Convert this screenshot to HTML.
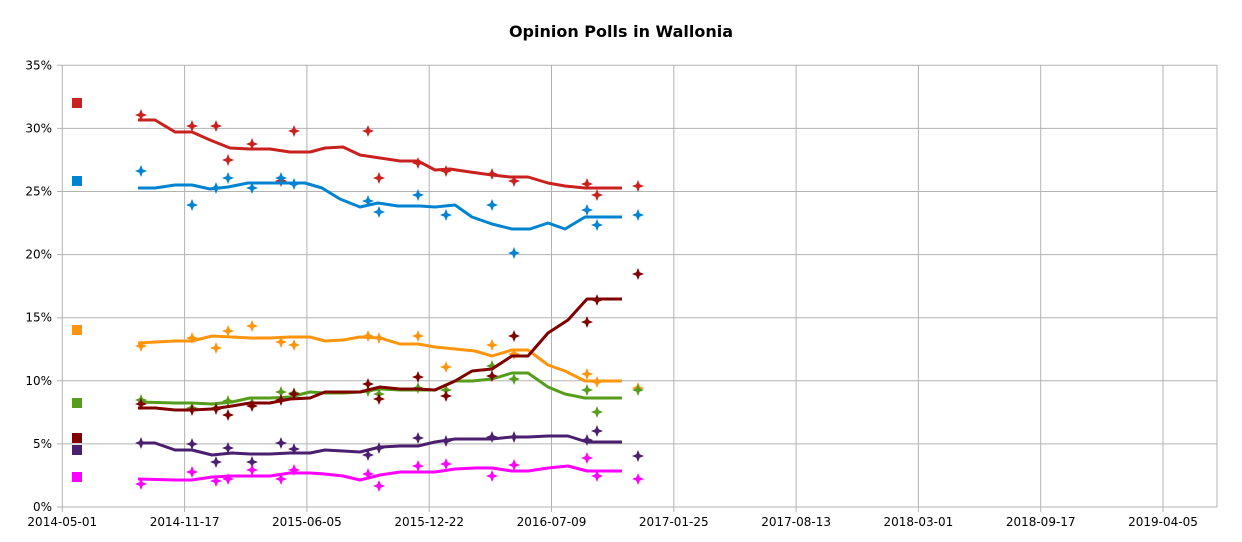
<!DOCTYPE html>
<html><head><meta charset="utf-8"><style>
body{margin:0;background:#fff;}
svg{display:block;font-family:"DejaVu Sans","Liberation Sans",sans-serif;}
</style></head><body>
<svg id="s" width="1242" height="542" viewBox="0 0 1242 542" xmlns="http://www.w3.org/2000/svg">
<rect width="1242" height="542" fill="#fff"/>
<text x="621" y="37" text-anchor="middle" font-size="16" font-weight="bold" fill="#000">Opinion Polls in Wallonia</text>
<g id="grid" stroke="#b3b3b3" stroke-width="1" fill="none"></g>
<g id="labels" font-size="12" fill="#000"></g>
<g id="data"></g>
</svg>
<script>
var NS="http://www.w3.org/2000/svg";
function el(t,a,p,txt){var e=document.createElementNS(NS,t);for(var k in a)e.setAttribute(k,a[k]);if(txt)e.textContent=txt;p.appendChild(e);return e;}
var g=document.getElementById('grid'),L=document.getElementById('labels'),D=document.getElementById('data');
var x0=62.3,dx=122.3,y0=507,dy=63.1;
for(var i=0;i<=7;i++){var y=y0-i*dy;el('line',{x1:57,x2:1217,y1:y,y2:y},g);el('text',{x:52,y:y+4,'text-anchor':'end'},L,(i*5)+'%');}
var dates=['2014-05-01','2014-11-17','2015-06-05','2015-12-22','2016-07-09','2017-01-25','2017-08-13','2018-03-01','2018-09-17','2019-04-05'];
for(var i=0;i<10;i++){var x=x0+i*dx;el('line',{x1:x,x2:x,y1:65,y2:512},g);el('text',{x:x,y:526,'text-anchor':'middle'},L,dates[i]);}
el('line',{x1:1217,x2:1217,y1:65,y2:507},g);
var S=[
['#c9211e',"138,120 155,120 175,132 192,132 210,140 230,148 250,149 270,149 290,152 310,152 325,148 343,147 360,155 380,158 400,161 418,161 435,170 450,169 470,172 492,175 510,177 528,177 548,183 565,186 585,188 622,188",
[[141,115],[192,126],[216,126],[228,160],[252,144],[281,181],[294,131],[368,131],[379,178],[418,163],[446,171],[492,174],[514,181],[587,184],[597,195],[638,186]],[77,103]],
['#0084d1',"138,188 155,188 175,185 192,185 210,189 228,187 248,183 270,183 290,183 305,183 322,188 340,199 360,207 378,203 398,206 420,206 435,207 455,205 472,217 492,224 512,229 530,229 548,223 565,229 585,217 622,217",
[[141,171],[192,205],[216,188],[228,178],[252,188],[281,178],[294,184],[368,201],[379,212],[418,195],[446,215],[492,205],[514,253],[587,210],[597,225],[638,215]],[77,181]],
['#ff950e',"138,343 175,341 192,341 212,336 232,337 250,338 270,338 290,337 310,337 325,341 343,340 360,337 380,338 400,344 418,344 435,347 455,349 475,351 492,356 512,350 528,350 548,365 565,371 585,381 622,381",
[[141,346],[192,338],[216,348],[228,331],[252,326],[281,342],[294,345],[368,336],[379,338],[418,336],[446,367],[492,345],[514,354],[587,374],[597,382],[638,388]],[77,330]],
['#579d1c',"138,402 175,403 192,403 212,404 232,402 250,398 270,398 290,397 310,392 325,393 343,393 360,392 380,389 400,390 418,390 435,390 455,381 472,381 492,379 512,373 528,373 548,387 565,394 585,398 622,398",
[[141,400],[192,408],[216,408],[228,401],[252,403],[281,392],[294,393],[368,391],[379,394],[418,388],[446,390],[492,366],[514,379],[587,390],[597,412],[638,390]],[77,403]],
['#800000',"138,408 155,408 175,410 192,410 212,409 232,406 250,403 270,403 290,399 310,398 325,392 343,392 360,392 380,387 400,389 418,389 435,390 455,381 472,371 492,369 512,356 528,356 548,333 568,320 587,299 622,299",
[[141,404],[192,410],[216,409],[228,415],[252,406],[281,400],[294,394],[368,384],[379,399],[418,377],[446,396],[492,376],[514,336],[587,322],[597,300],[638,274]],[77,438]],
['#4b1f6f',"138,443 155,443 175,450 192,450 212,455 232,453 250,454 270,454 290,453 310,453 325,450 343,451 360,452 380,447 400,446 418,446 435,442 455,439 475,439 492,439 512,437 528,437 548,436 568,436 587,442 622,442",
[[141,443],[192,444],[216,462],[228,448],[252,462],[281,443],[294,449],[368,455],[379,448],[418,438],[446,441],[492,437],[514,437],[587,440],[597,431],[638,456]],[77,450]],
['#ff00ff',"138,479 175,480 192,480 212,477 232,476 250,476 270,476 290,473 310,473 325,474 343,476 360,480 380,475 400,472 418,472 435,472 455,469 475,468 492,468 512,471 528,471 548,468 568,466 587,471 622,471",
[[141,484],[192,472],[216,481],[228,479],[252,470],[281,479],[294,470],[368,474],[379,486],[418,466],[446,464],[492,476],[514,465],[587,458],[597,476],[638,479]],[77,477]]
];
S.forEach(function(s){
 el('polyline',{points:s[1],fill:'none',stroke:s[0],'stroke-width':3,'stroke-linejoin':'round'},D);
 s[2].forEach(function(p){var x=p[0],y=p[1];
  el('path',{d:'M'+x+','+(y-6)+'L'+(x+1.7)+','+(y-1.7)+'L'+(x+6)+','+y+'L'+(x+1.7)+','+(y+1.7)+'L'+x+','+(y+6)+'L'+(x-1.7)+','+(y+1.7)+'L'+(x-6)+','+y+'L'+(x-1.7)+','+(y-1.7)+'Z',fill:s[0]},D);});
 el('rect',{x:s[3][0]-5,y:s[3][1]-5,width:10,height:10,fill:s[0]},D);
});
</script>
</body></html>
